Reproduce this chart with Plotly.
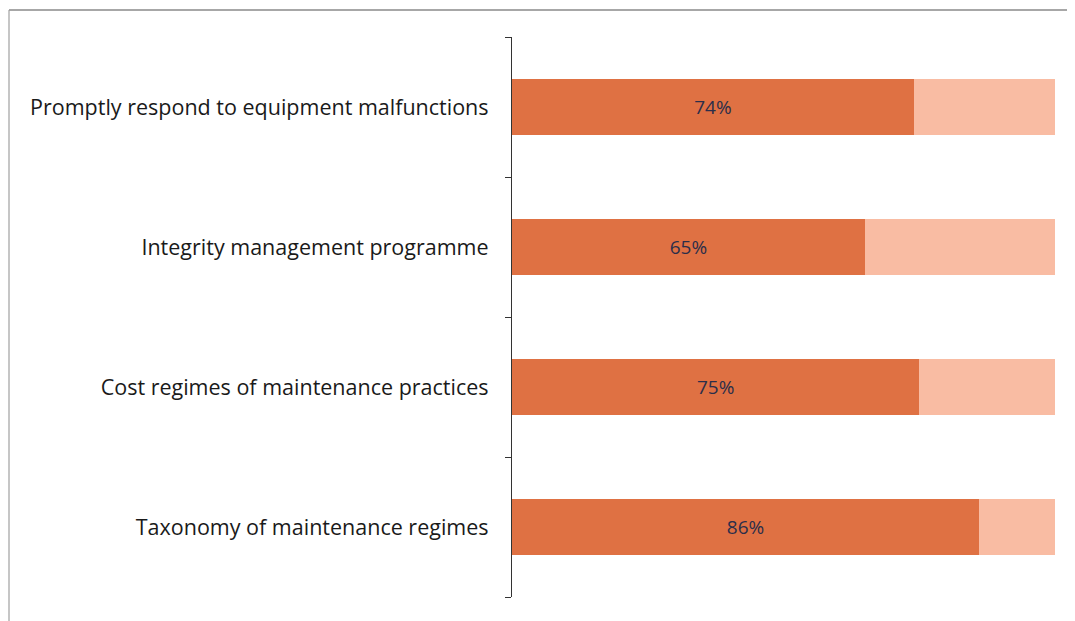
import plotly.graph_objects as go

# top-to-bottom order as shown in the chart
categories = [
    "Promptly respond to equipment malfunctions",
    "Integrity management programme",
    "Cost regimes of maintenance practices",
    "Taxonomy of maintenance regimes",
]
agree_pct = [74, 65, 75, 86]
rest_pct = [100 - v for v in agree_pct]

DARK = "#DF7143"
LIGHT = "#F9BCA3"

# page body adds an 8px offset, so margins are set in figure coords
L, R, T, B = 504, 28, 29, 32
PW, PH = 1075 - L - R, 621 - T - B

fig = go.Figure()
fig.add_trace(go.Bar(
    y=categories, x=agree_pct, orientation="h",
    marker=dict(color=DARK, line=dict(width=0)),
    text=[f"{v}%" for v in agree_pct],
    textposition="inside", insidetextanchor="middle",
    textfont=dict(color="#2B2E4A", size=19, family="Open Sans, sans-serif"),
    hoverinfo="skip",
))
fig.add_trace(go.Bar(
    y=categories, x=rest_pct, orientation="h",
    marker=dict(color=LIGHT, line=dict(width=0)),
    hoverinfo="skip",
))

fig.update_layout(
    barmode="stack",
    bargap=0.6,
    showlegend=False,
    width=1075, height=621,
    plot_bgcolor="white", paper_bgcolor="white",
    margin=dict(l=L, r=R, t=T, b=B),
    font=dict(family="Open Sans, sans-serif", size=21.5, color="#1a1a1a"),
    shapes=[
        # chart frame (top and left edges visible)
        dict(type="line", xref="paper", yref="paper",
             x0=(1 - L) / PW, x1=(1075 - L) / PW,
             y0=1 + (T - 2) / PH, y1=1 + (T - 2) / PH,
             line=dict(color="#8a8a8a", width=1.5)),
        dict(type="line", xref="paper", yref="paper",
             x0=(1 - L) / PW, x1=(1 - L) / PW,
             y0=-B / PH, y1=1 + (T - 2) / PH,
             line=dict(color="#a0a0a0", width=1.2)),
    ],
)
fig.update_xaxes(range=[0, 100], visible=False, fixedrange=True)
fig.update_yaxes(
    categoryorder="array", categoryarray=list(reversed(categories)),
    showline=True, linecolor="#333333", linewidth=1.3,
    ticks="outside", tickson="boundaries", ticklen=6, tickcolor="#333333",
    ticklabelstandoff=18, showgrid=False,
)

fig.write_html("out.html")
